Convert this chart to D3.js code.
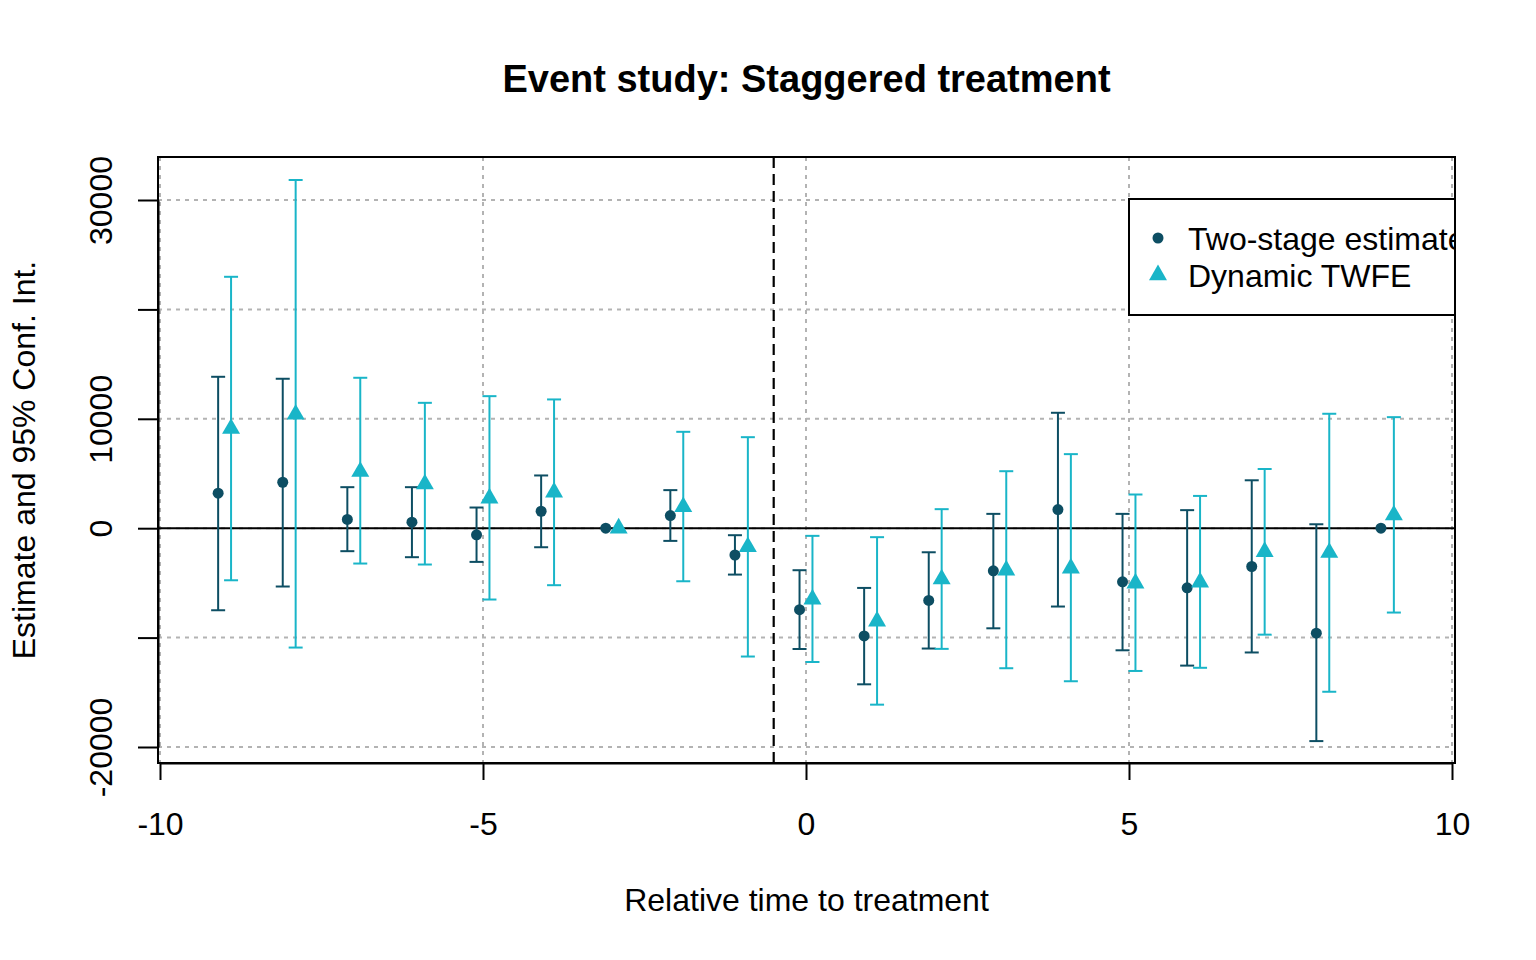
<!DOCTYPE html>
<html>
<head>
<meta charset="utf-8">
<script src="https://cdn.jsdelivr.net/npm/d3@7"></script>
<style>
  body { margin: 0; background: #fff; }
  text { font-family: "Liberation Sans", Arial, sans-serif; }
</style>
</head>
<body>
<svg id="plot" width="1536" height="960"></svg>
<script>
// relative periods
const periods = [-9, -8, -7, -6, -5, -4, -3, -2, -1, 0, 1, 2, 3, 4, 5, 6, 7, 8, 9];

// two-stage estimates (reference periods -3 and 9 have no interval)
const twoStageEst = [3200, 4200, 800, 550, -600, 1550, 0, 1150, -2450, -7450, -9850, -6600, -3900, 1700, -4900, -5450, -3500, -9600, 0];
const twoStageLo = [-7500, -5330, -2100, -2650, -3080, -1740, null, -1160, -4240, -11040, -14270, -11000, -9150, -7160, -11160, -12560, -11360, -19460, null];
const twoStageHi = [13840, 13660, 3750, 3750, 1890, 4820, null, 3480, -640, -3840, -5460, -2200, 1310, 10550, 1310, 1650, 4380, 360, null];

// dynamic TWFE
const twfeEst = [9100, 10400, 5170, 4030, 2740, 3290, 0, 1950, -1710, -6490, -8500, -4660, -3840, -3660, -5030, -4940, -2150, -2230, 1190];
const twfeLo = [-4760, -10910, -3230, -3320, -6520, -5210, null, -4850, -11730, -12230, -16130, -11030, -12800, -13990, -13050, -12760, -9730, -14950, -7710];
const twfeHi = [22980, 31830, 13750, 11460, 12070, 11770, null, 8810, 8320, -700, -820, 1740, 5210, 6770, 3080, 2950, 5410, 10460, 10150];

const xTicks = [-10, -5, 0, 5, 10];
const yTicks = [-20000, -10000, 0, 10000, 20000, 30000];
const yLabelled = [-20000, 0, 10000, 30000];

const darkCol = "#0D4E63";
const lightCol = "#19B5C8";

const svg = d3.select("#plot");
const box = { left: 158, top: 157, right: 1455, bottom: 763 };

const x = d3.scaleLinear().domain([-10, 10]).range([160, 1452]);
const y = d3.scaleLinear().domain([-20000, 30000]).range([747, 200]);

svg.append("clipPath").attr("id", "clip")
  .append("rect")
  .attr("x", box.left).attr("y", box.top)
  .attr("width", box.right - box.left).attr("height", box.bottom - box.top);

const plot = svg.append("g").attr("clip-path", "url(#clip)");

// grid
plot.selectAll(".vgrid").data(xTicks).join("line")
  .attr("x1", d => x(d)).attr("x2", d => x(d))
  .attr("y1", box.top).attr("y2", box.bottom)
  .attr("stroke", "#b3b3b3").attr("stroke-width", 2).attr("stroke-dasharray", "4,5");
plot.selectAll(".hgrid").data(yTicks).join("line")
  .attr("x1", box.left).attr("x2", box.right)
  .attr("y1", d => y(d)).attr("y2", d => y(d))
  .attr("stroke", "#b3b3b3").attr("stroke-width", 2).attr("stroke-dasharray", "4,5");

// zero line and treatment line
plot.append("line")
  .attr("x1", box.left).attr("x2", box.right)
  .attr("y1", y(0)).attr("y2", y(0))
  .attr("stroke", "#000").attr("stroke-width", 2);
plot.append("line")
  .attr("x1", x(-0.5)).attr("x2", x(-0.5))
  .attr("y1", box.top).attr("y2", box.bottom)
  .attr("stroke", "#000").attr("stroke-width", 2.2).attr("stroke-dasharray", "11,6");

function drawSeries(est, lo, hi, offset, color, shape) {
  const rows = periods.map((p, i) => ({ t: p + offset, est: est[i], lo: lo[i], hi: hi[i] }));
  const bars = rows.filter(d => d.lo != null);
  const g = plot.append("g");
  const capW = 7;
  g.selectAll(".bar").data(bars).join("line")
    .attr("x1", d => x(d.t)).attr("x2", d => x(d.t))
    .attr("y1", d => y(d.lo)).attr("y2", d => y(d.hi))
    .attr("stroke", color).attr("stroke-width", 2);
  g.selectAll(".capLo").data(bars).join("line")
    .attr("x1", d => x(d.t) - capW).attr("x2", d => x(d.t) + capW)
    .attr("y1", d => y(d.lo)).attr("y2", d => y(d.lo))
    .attr("stroke", color).attr("stroke-width", 2);
  g.selectAll(".capHi").data(bars).join("line")
    .attr("x1", d => x(d.t) - capW).attr("x2", d => x(d.t) + capW)
    .attr("y1", d => y(d.hi)).attr("y2", d => y(d.hi))
    .attr("stroke", color).attr("stroke-width", 2);
  g.selectAll(".pt").data(rows).join("path")
    .attr("transform", d => `translate(${x(d.t)},${y(d.est)})`)
    .attr("d", d3.symbol().type(shape).size(shape === d3.symbolTriangle ? 140 : 95))
    .attr("fill", color);
}

drawSeries(twoStageEst, twoStageLo, twoStageHi, -0.1, darkCol, d3.symbolCircle);
drawSeries(twfeEst, twfeLo, twfeHi, 0.1, lightCol, d3.symbolTriangle);

// legend (clipped by plot region)
const legend = plot.append("g");
legend.append("rect")
  .attr("x", 1129).attr("y", 199).attr("width", 400).attr("height", 116)
  .attr("fill", "#fff").attr("stroke", "#000").attr("stroke-width", 2);
const legendItems = [
  { label: "Two-stage estimate", color: darkCol, shape: d3.symbolCircle, size: 95 },
  { label: "Dynamic TWFE", color: lightCol, shape: d3.symbolTriangle, size: 140 }
];
legendItems.forEach((item, i) => {
  const cy = 238 + i * 37;
  legend.append("path")
    .attr("transform", `translate(1158,${cy})`)
    .attr("d", d3.symbol().type(item.shape).size(item.size))
    .attr("fill", item.color);
  legend.append("text")
    .attr("x", 1188).attr("y", cy + 12)
    .attr("font-size", "32px")
    .text(item.label);
});

// box
svg.append("rect")
  .attr("x", box.left).attr("y", box.top)
  .attr("width", box.right - box.left).attr("height", box.bottom - box.top)
  .attr("fill", "none").attr("stroke", "#000").attr("stroke-width", 2);

// plain hyphen for negatives, as in the original
const fmt = d => String(d);

// x axis
const xAxis = svg.append("g")
  .attr("transform", `translate(0,${box.bottom})`)
  .call(d3.axisBottom(x).tickValues(xTicks).tickSize(17).tickSizeOuter(0).tickPadding(32).tickFormat(fmt));
xAxis.select(".domain").attr("stroke-width", 2);
xAxis.selectAll(".tick line").attr("stroke-width", 2);
xAxis.selectAll("text").attr("font-size", "32px").attr("font-family", "Liberation Sans, Arial, sans-serif").attr("fill", "#000");

// y axis
const yAxis = svg.append("g")
  .attr("transform", `translate(${box.left},0)`)
  .call(d3.axisLeft(y).tickValues(yTicks).tickSize(20).tickSizeOuter(0)
    .tickFormat(d => yLabelled.includes(d) ? fmt(d) : ""));
yAxis.select(".domain").attr("stroke-width", 2);
yAxis.selectAll(".tick line").attr("stroke-width", 2);
yAxis.selectAll("text")
  .attr("x", 0).attr("dy", 0)
  .attr("text-anchor", "middle")
  .attr("transform", "translate(-46,0) rotate(-90)")
  .attr("font-size", "32px").attr("font-family", "Liberation Sans, Arial, sans-serif").attr("fill", "#000");

// titles
svg.append("text")
  .attr("x", (box.left + box.right) / 2).attr("y", 92)
  .attr("text-anchor", "middle")
  .attr("font-size", "38px").attr("font-weight", "bold")
  .text("Event study: Staggered treatment");
svg.append("text")
  .attr("x", (box.left + box.right) / 2).attr("y", 911)
  .attr("text-anchor", "middle")
  .attr("font-size", "32px")
  .text("Relative time to treatment");
svg.append("text")
  .attr("transform", `translate(35,${(box.top + box.bottom) / 2}) rotate(-90)`)
  .attr("text-anchor", "middle")
  .attr("font-size", "32px")
  .text("Estimate and 95% Conf. Int.");
</script>
</body>
</html>
